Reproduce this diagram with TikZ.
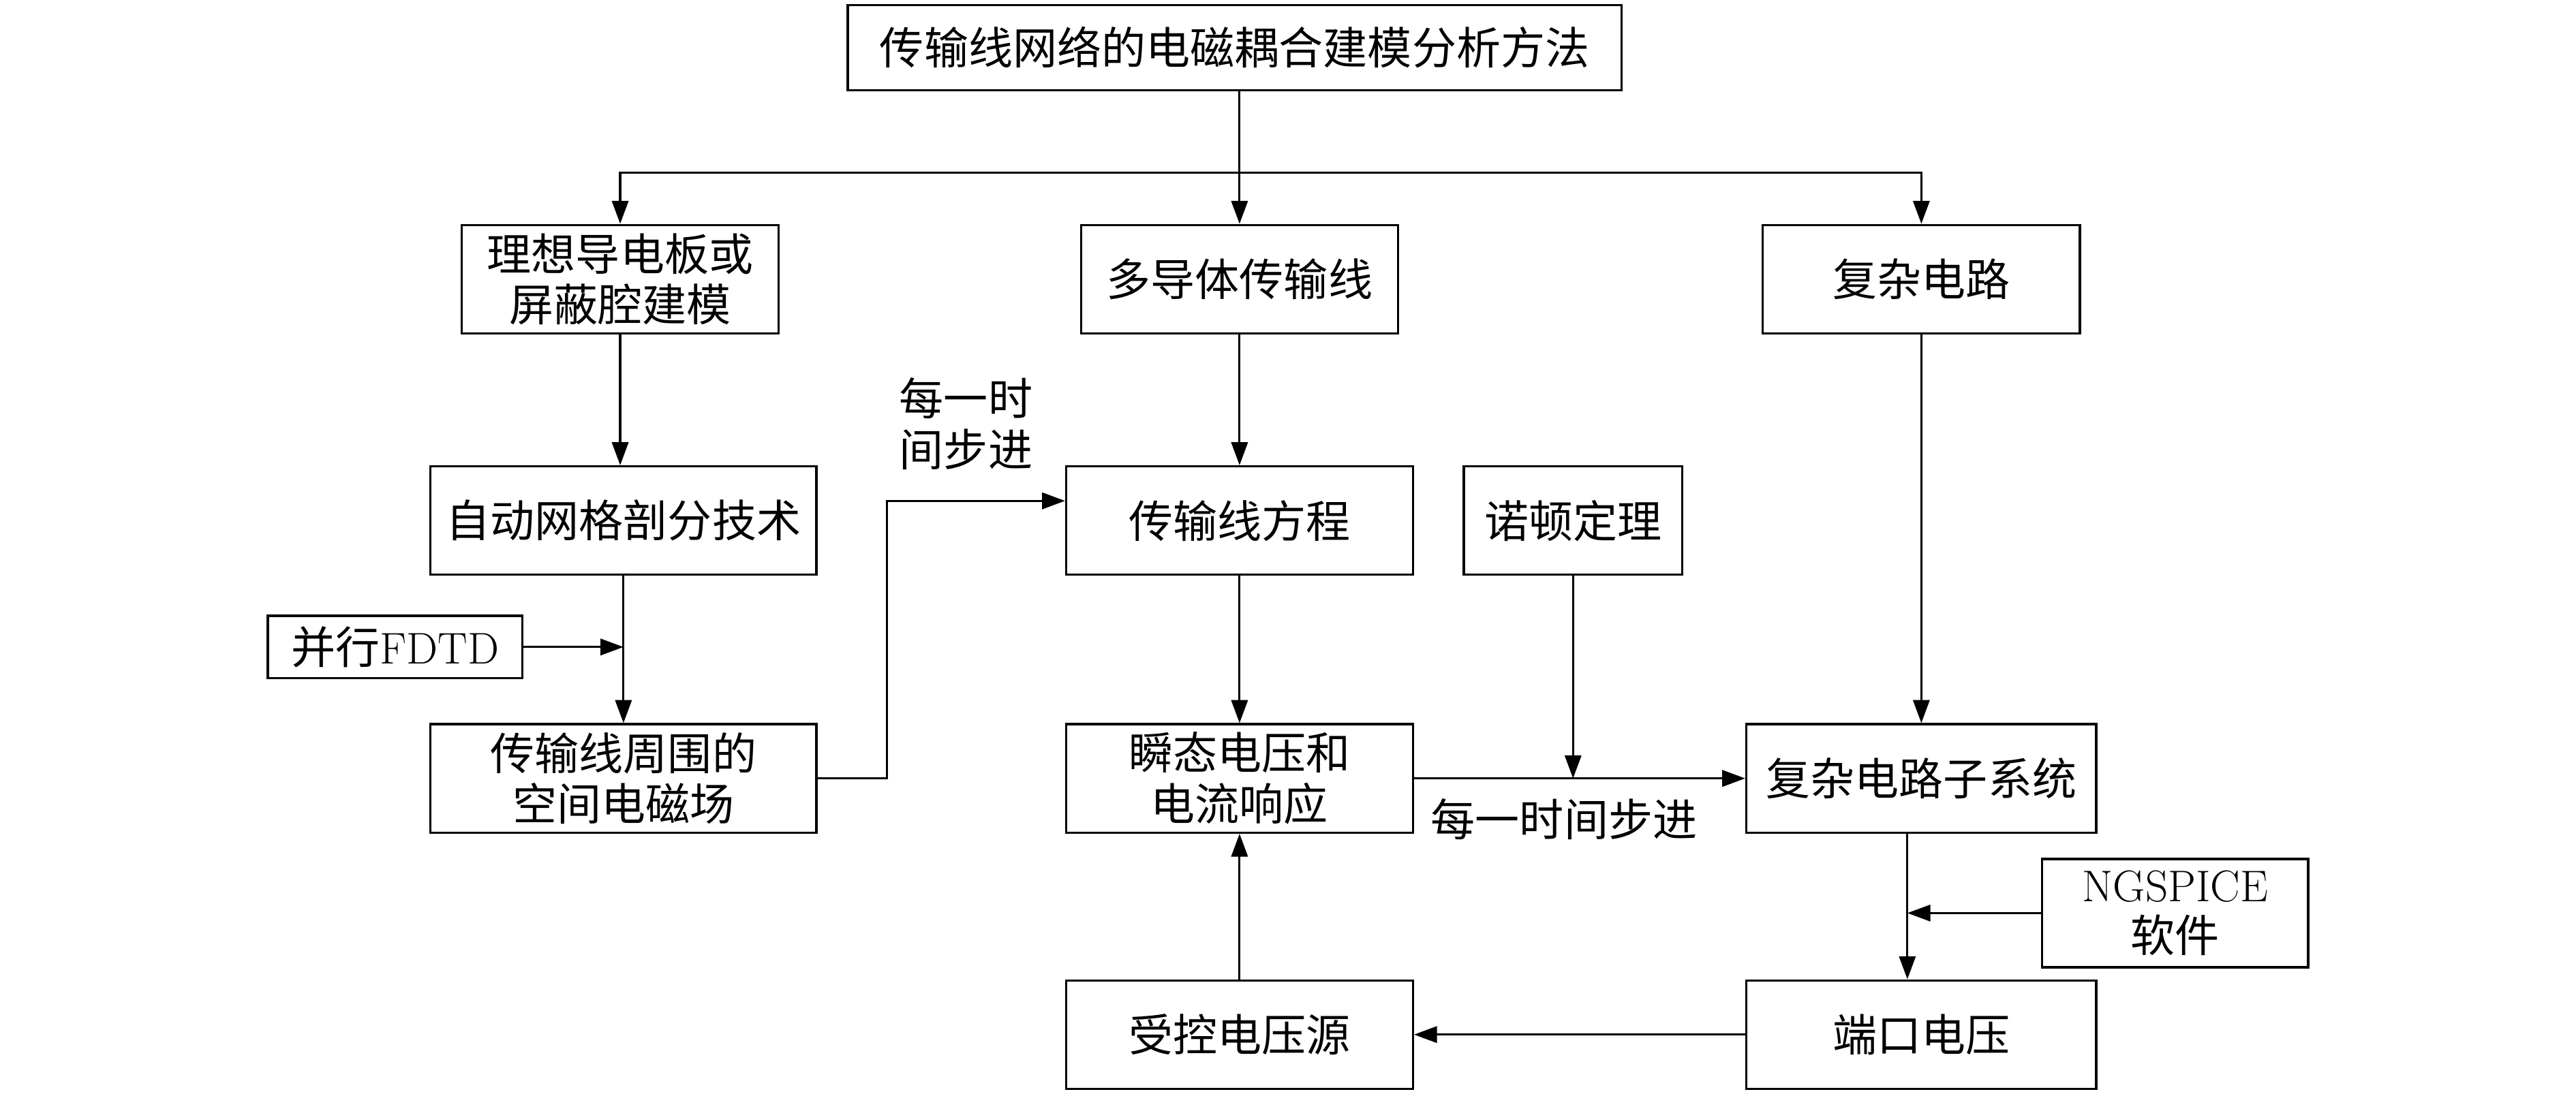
\documentclass[tikz,border=0pt]{standalone}
\usepackage{fontspec}
\newfontfamily\zhfont{Noto Sans CJK SC}
\newcommand\zh[1]{{\zhfont #1}}
\usetikzlibrary{arrows.meta,calc}
\begin{document}
\begin{tikzpicture}[x=1pt,y=-1pt,
  box/.style={draw,line width=1.4pt,inner sep=0pt,align=center,font=\fontsize{27}{31}\selectfont},
  lbl/.style={inner sep=0pt,align=center,font=\fontsize{27}{31}\selectfont},
  line/.style={line width=1.3pt},
  arr/.style={line width=1.3pt,-{Triangle[length=14pt,width=10pt]}}]
\useasboundingbox (0,0) rectangle (1568,666);
\fill[white] (0,0) rectangle (1568,666);
% nodes
\node[box,minimum width=471pt,minimum height=52pt] (title) at (751.5,29) {\zh{传输线网络的电磁耦合建模分析方法}};
\node[box,minimum width=193pt,minimum height=66pt] (r1a) at (377.5,170) {\zh{理想导电板或}\\\zh{屏蔽腔建模}};
\node[box,minimum width=193pt,minimum height=66pt] (r1b) at (754.5,170) {\zh{多导体传输线}};
\node[box,minimum width=193pt,minimum height=66pt] (r1c) at (1169.5,170) {\zh{复杂电路}};
\node[box,minimum width=235pt,minimum height=66pt] (r2a) at (379.5,317) {\zh{自动网格剖分技术}};
\node[box,minimum width=211pt,minimum height=66pt] (r2b) at (754.5,317) {\zh{传输线方程}};
\node[box,minimum width=133pt,minimum height=66pt] (r2c) at (957.5,317) {\zh{诺顿定理}};
\node[box,minimum width=155pt,minimum height=38pt] (fdtd) at (240.5,394) {\zh{并行}FDTD};
\node[box,minimum width=235pt,minimum height=66pt] (r3a) at (379.5,474) {\zh{传输线周围的}\\\zh{空间电磁场}};
\node[box,minimum width=211pt,minimum height=66pt] (r3b) at (754.5,474) {\zh{瞬态电压和}\\\zh{电流响应}};
\node[box,minimum width=213pt,minimum height=66pt] (r3c) at (1169.5,474) {\zh{复杂电路子系统}};
\node[box,minimum width=162pt,minimum height=66pt] (ngs) at (1324,556) {NGSPICE\\\zh{软件}};
\node[box,minimum width=211pt,minimum height=66pt] (r4b) at (754.5,630) {\zh{受控电压源}};
\node[box,minimum width=213pt,minimum height=66pt] (r4c) at (1169.5,630) {\zh{端口电压}};
\node[lbl] (l1) at (588,258) {\zh{每一时}\\\zh{间步进}};
\node[lbl] (l2) at (952,499) {\zh{每一时间步进}};
% helper coordinates
\coordinate (bus) at (0,105);
\coordinate (c305) at (0,305);
\coordinate (jx) at (540,0);
\coordinate (vx) at (1161,0);
\coordinate (top) at (r1b.north |- title.south);
% connectors
\draw[arr] (top) -- (r1b.north);
\draw[arr] (top |- bus) -| (r1a.north);
\draw[arr] (top |- bus) -| (r1c.north);
\draw[arr] (r1a.south) -- (r1a.south |- r2a.north);
\draw[arr] (r2a) -- (r3a);
\draw[arr] (fdtd.east) -- (fdtd.east -| r2a.south);
\draw[arr] (r3a.east) -| (jx |- c305) -- (r2b.west |- c305);
\draw[arr] (r1b) -- (r2b);
\draw[arr] (r2b) -- (r3b);
\draw[arr] (r4b) -- (r3b);
\draw[arr] (r3b.east) -- (r3c.west);
\draw[arr] (r2c.south) -- (r2c.south |- r3b.east);
\draw[arr] (r1c) -- (r3c);
\draw[arr] (r3c.south -| vx) -- (r4c.north -| vx);
\draw[arr] (ngs.west) -- (ngs.west -| vx);
\draw[arr] (r4c.west) -- (r4b.east);
\end{tikzpicture}
\end{document}
